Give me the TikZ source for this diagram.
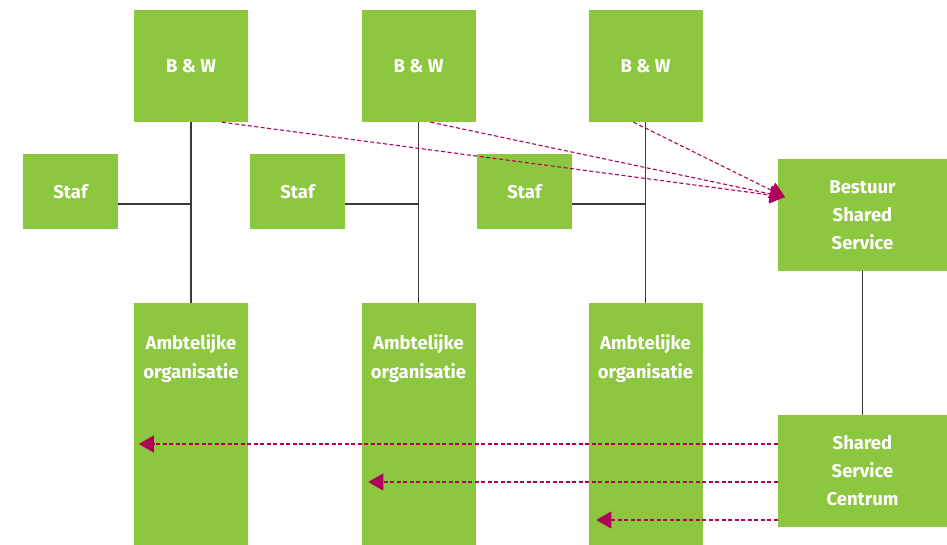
\documentclass[tikz,border=0pt]{standalone}
\usepackage{fontspec}
\setmainfont{Fira Sans}
\usetikzlibrary{arrows.meta}
\definecolor{boxgreen}{HTML}{8DC63F}
\definecolor{linkmag}{HTML}{B0005A}
\definecolor{linegray}{HTML}{3A3A3A}
\tikzset{
  box/.style={fill=boxgreen, draw=none, inner sep=0pt, text=white,
    font=\fontsize{18.5}{28}\selectfont\bfseries, align=center},
  bwbox/.style={box, minimum width=114pt, minimum height=112pt},
  stafbox/.style={box, minimum width=95pt, minimum height=75pt},
  ambbox/.style={box, minimum width=114pt, minimum height=242pt},
  ssbox/.style={box, minimum width=169pt, minimum height=112pt},
  label/.style={text=white, font=\fontsize{18.5}{29}\selectfont\bfseries, align=center, inner sep=0pt},
  conn/.style={draw=linegray, line width=1.4pt},
  link/.style={draw=linkmag, line width=1.1pt, dash pattern=on 4pt off 2.5pt,
    -{Triangle[length=15pt, width=17pt]}},
}
\begin{document}
\begin{tikzpicture}[x=1pt, y=-1pt]
\useasboundingbox (0,0) rectangle (947,545);
% B & W
\node[bwbox] (bw1) at (191,66) {B \& W};
\node[bwbox] (bw2) at (418.5,66) {B \& W};
\node[bwbox] (bw3) at (645.5,66) {B \& W};
% Staf
\node[stafbox] (st1) at (70.5,191.5) {Staf};
\node[stafbox] (st2) at (297.5,191.5) {Staf};
\node[stafbox] (st3) at (524.5,191.5) {Staf};
% Ambtelijke organisatie
\node[ambbox] (am1) at (191,424) {};
\node[ambbox] (am2) at (418.5,424) {};
\node[ambbox] (am3) at (645.5,424) {};
\node[label, anchor=north] (amt1) at ([yshift=-31pt]am1.north) {Ambtelijke\\organisatie};
\node[label, anchor=north] (amt2) at ([yshift=-31pt]am2.north) {Ambtelijke\\organisatie};
\node[label, anchor=north] (amt3) at ([yshift=-31pt]am3.north) {Ambtelijke\\organisatie};
% Shared service
\node[ssbox] (bss) at (862.5,215) {Bestuur\\Shared\\Service};
\node[ssbox] (ssc) at (862.5,471) {Shared\\Service\\Centrum};
% solid connectors
\foreach \i in {1,2,3} {
  \draw[conn] (bw\i.south) -- (am\i.north);
  \draw[conn] ([yshift=-12.5pt]st\i.east) -- ([yshift=-12.5pt]st\i.east -| bw\i.south);
}
\draw[conn] (bss.south) -- (ssc.north);
% dashed links
\coordinate (tip) at (785,197);
\draw[link] ([xshift=31pt]bw1.south) -- (tip);
\draw[link] ([xshift=12pt]bw2.south) -- (tip);
\draw[link] ([xshift=-12pt]bw3.south) -- (tip);
\draw[link] ([yshift=27pt]ssc.west) -- ([yshift=27pt,xshift=5pt]ssc.west -| am1.west);
\draw[link] ([yshift=-11pt]ssc.west) -- ([yshift=-11pt,xshift=7pt]ssc.west -| am2.west);
\draw[link] ([yshift=-49pt]ssc.west) -- ([yshift=-49pt,xshift=8pt]ssc.west -| am3.west);
\end{tikzpicture}
\end{document}
